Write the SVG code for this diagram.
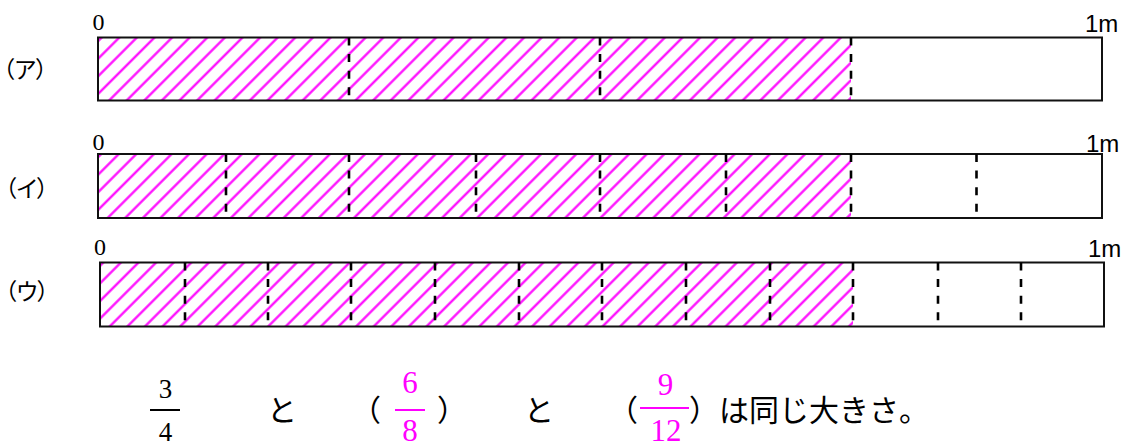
<svg xmlns="http://www.w3.org/2000/svg" width="1126" height="446" viewBox="0 0 1126 446">
<style>
.bar{fill:none;stroke:#111;stroke-width:2}
.div{stroke:#000;stroke-width:2.6;stroke-dasharray:8 8.6}
.zero{font-family:"Liberation Serif",serif;font-size:24px;fill:#000;text-anchor:middle}
.unit{font-family:"Liberation Sans","Noto Sans CJK JP",sans-serif;font-size:24px;fill:#000}
.lab{font-family:"Noto Sans CJK JP",sans-serif;font-size:23px;fill:#000;font-feature-settings:"palt"}
.jp{font-family:"Noto Sans CJK JP",sans-serif;font-size:30px;fill:#000}
.num{font-family:"Liberation Serif",serif;font-size:27px;fill:#000;text-anchor:middle}
.mnum{font-family:"Liberation Serif",serif;font-size:31px;fill:#ff00ff;text-anchor:middle}
.hl{stroke:#ff00ff;stroke-width:2.2}
</style>
<defs>
<pattern id="hA" patternUnits="userSpaceOnUse" width="12.445" height="20" patternTransform="rotate(45) translate(5.09 0)">
<line class="hl" x1="6.22" y1="-5" x2="6.22" y2="25"/>
</pattern>
<pattern id="hB" patternUnits="userSpaceOnUse" width="12.445" height="20" patternTransform="rotate(45) translate(0 0)">
<line class="hl" x1="6.22" y1="-5" x2="6.22" y2="25"/>
</pattern>
<pattern id="hC" patternUnits="userSpaceOnUse" width="12.445" height="20" patternTransform="rotate(45) translate(3.55 0)">
<line class="hl" x1="6.22" y1="-5" x2="6.22" y2="25"/>
</pattern>
</defs>
<rect width="1126" height="446" fill="#fff"/>

<g id="barA">
<text class="lab" x="3" y="78">（ア）</text>
<text class="zero" x="98.5" y="30">0</text>
<text class="unit" x="1085" y="32">1m</text>
<rect x="98" y="37.5" width="753" height="63" fill="url(#hA)"/>
<rect class="bar" x="98" y="37.5" width="1004" height="63"/>
<line class="div" x1="349" y1="37.5" x2="349" y2="100.5"/>
<line class="div" x1="600" y1="37.5" x2="600" y2="100.5"/>
<line class="div" x1="851" y1="37.5" x2="851" y2="100.5"/>
</g>

<g id="barB">
<text class="lab" x="5" y="197">（イ）</text>
<text class="zero" x="98.5" y="150">0</text>
<text class="unit" x="1086" y="152">1m</text>
<rect x="98" y="154" width="753" height="64" fill="url(#hB)"/>
<rect class="bar" x="98" y="154" width="1004" height="64"/>
<line class="div" x1="226" y1="154" x2="226" y2="218"/>
<line class="div" x1="349" y1="154" x2="349" y2="218"/>
<line class="div" x1="476" y1="154" x2="476" y2="218"/>
<line class="div" x1="600" y1="154" x2="600" y2="218"/>
<line class="div" x1="726" y1="154" x2="726" y2="218"/>
<line class="div" x1="851" y1="154" x2="851" y2="218"/>
<line class="div" x1="976.5" y1="154" x2="976.5" y2="218"/>
</g>

<g id="barC">
<text class="lab" x="5" y="300">（ウ）</text>
<text class="zero" x="100" y="255">0</text>
<text class="unit" x="1088" y="257">1m</text>
<rect x="100" y="262.5" width="753" height="64" fill="url(#hC)"/>
<rect class="bar" x="100" y="262.5" width="1004" height="64"/>
<line class="div" x1="185" y1="262.5" x2="185" y2="326.5"/>
<line class="div" x1="268" y1="262.5" x2="268" y2="326.5"/>
<line class="div" x1="351" y1="262.5" x2="351" y2="326.5"/>
<line class="div" x1="435" y1="262.5" x2="435" y2="326.5"/>
<line class="div" x1="519" y1="262.5" x2="519" y2="326.5"/>
<line class="div" x1="602" y1="262.5" x2="602" y2="326.5"/>
<line class="div" x1="686" y1="262.5" x2="686" y2="326.5"/>
<line class="div" x1="770" y1="262.5" x2="770" y2="326.5"/>
<line class="div" x1="853" y1="262.5" x2="853" y2="326.5"/>
<line class="div" x1="938" y1="262.5" x2="938" y2="326.5"/>
<line class="div" x1="1021" y1="262.5" x2="1021" y2="326.5"/>
</g>

<g id="sentence">
<g id="frac34">
<text class="num" x="165.5" y="398">3</text>
<line x1="150" y1="410" x2="180" y2="410" stroke="#000" stroke-width="2"/>
<text class="num" x="165.5" y="441">4</text>
</g>
<text class="jp" x="267" y="421">と</text>
<text class="jp" x="351" y="421">（</text>
<g id="frac68">
<text class="mnum" x="410" y="393">6</text>
<line x1="395" y1="410" x2="425" y2="410" stroke="#ff00ff" stroke-width="2"/>
<text class="mnum" x="410" y="441">8</text>
</g>
<text class="jp" x="437" y="421">）</text>
<text class="jp" x="524" y="421">と</text>
<text class="jp" x="608" y="421">（</text>
<g id="frac912">
<text class="mnum" x="665.5" y="395">9</text>
<line x1="640" y1="408" x2="689" y2="408" stroke="#ff00ff" stroke-width="2"/>
<text class="mnum" x="666" y="441">12</text>
</g>
<text class="jp" x="689" y="421">）は同じ大きさ。</text>
</g>
</svg>
